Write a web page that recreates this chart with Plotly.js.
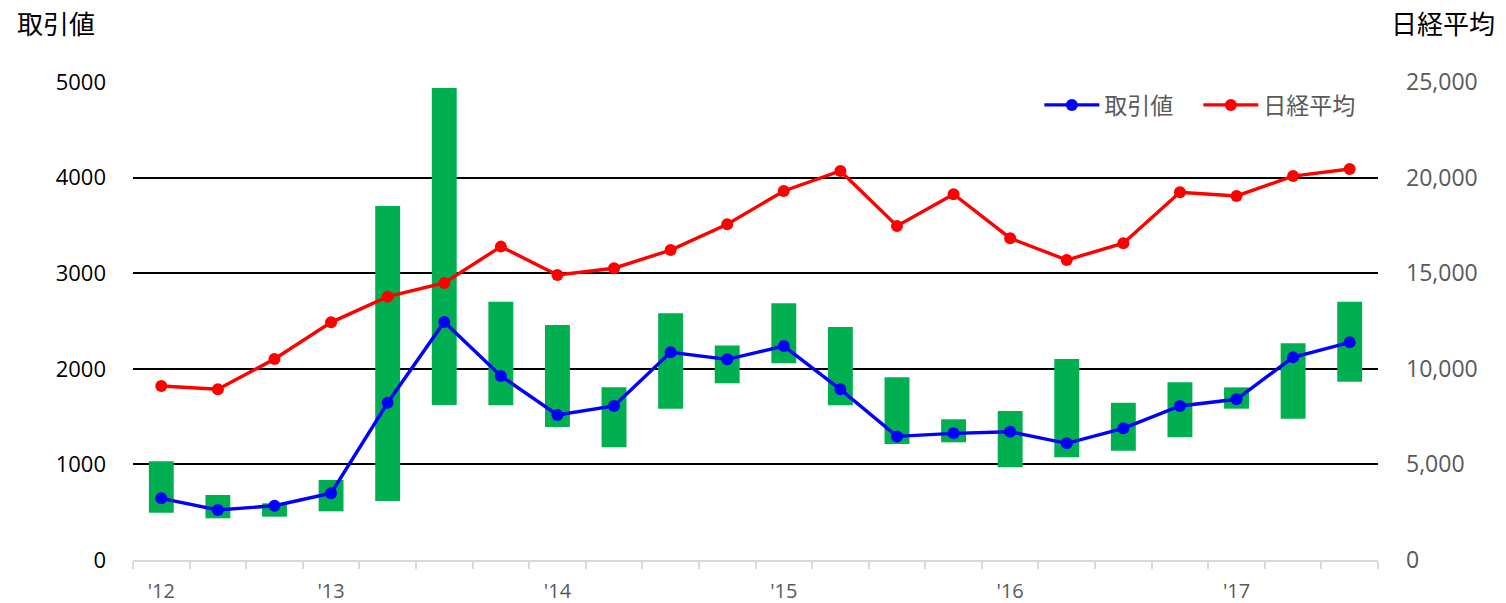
<!DOCTYPE html>
<html>
<head>
<meta charset="utf-8">
<script src="https://cdn.plot.ly/plotly-3.0.1.min.js"></script>
<style>html,body{margin:0;padding:0;background:#fff;}#chart{width:1506px;height:603px;}</style>
</head>
<body>
<div id="chart"></div>
<script>
// Quarterly index (0 = first quarter shown)
const quarters = [0,1,2,3,4,5,6,7,8,9,10,11,12,13,14,15,16,17,18,19,20,21];
const tickPositions = [0,3,7,11,15,19];
const tickLabels = ["'12","'13","'14","'15","'16","'17"];

// 取引値 (left axis)
const tradeValue = [645,523,568,698,1645,2490,1925,1517,1611,2172,2099,2238,1785,1293,1325,1342,1220,1377,1611,1681,2120,2277];
// Range bars (low / high)
const rangeLow  = [495,436,453,509,617,1621,1618,1391,1179,1583,1848,2057,1618,1213,1231,970,1074,1144,1284,1583,1478,1865];
const rangeHigh = [1032,680,593,837,3703,4937,2702,2458,1806,2580,2245,2685,2437,1911,1472,1559,2103,1646,1859,1806,2267,2702];
// 日経平均 (right axis)
const nikkei = [9100,8930,10510,12430,13770,14490,16390,14910,15260,16210,17560,19300,20350,17470,19130,16830,15690,16570,19230,19040,20080,20450];

const font = "'Open Sans', 'Noto Sans CJK JP', sans-serif";
const jfont = "'Noto Sans CJK JP', sans-serif";

const traces = [
  {
    type: 'bar', x: quarters, base: rangeLow,
    y: rangeHigh.map((h, i) => h - rangeLow[i]),
    width: 0.44, marker: {color: '#00b050'}, showlegend: false, hoverinfo: 'skip'
  },
  {
    type: 'scatter', mode: 'lines+markers', name: '取引値', x: quarters, y: tradeValue,
    line: {color: '#0000ff', width: 3.4}, marker: {color: '#0000ff', size: 12}
  },
  {
    type: 'scatter', mode: 'lines+markers', name: '日経平均', x: quarters, y: nikkei, yaxis: 'y2',
    line: {color: '#ff0000', width: 3.4}, marker: {color: '#ff0000', size: 12}
  }
];

const layout = {
  width: 1506, height: 603,
  margin: {l: 133, r: 128, t: 82, b: 43, autoexpand: false},
  paper_bgcolor: '#fff', plot_bgcolor: '#fff',
  font: {family: font, color: '#595959'},
  showlegend: true,
  legend: {
    orientation: 'h', x: 0.728, y: 0.952, xanchor: 'left', yanchor: 'middle',
    font: {family: jfont, size: 23, color: '#595959'}, bgcolor: 'rgba(0,0,0,0)',
    itemwidth: 55, entrywidth: 89, entrywidthmode: 'pixels', tracegroupgap: 0
  },
  xaxis: {
    range: [-0.5, 21.5], tickmode: 'array', tickvals: tickPositions, ticktext: tickLabels,
    ticks: '', showgrid: false, zeroline: false,
    showline: true, linecolor: '#d9d9d9', linewidth: 2,
    tickfont: {family: font, size: 20, color: '#595959'},
    ticklabelstandoff: 12,
    minor: {tick0: -0.5, dtick: 1, ticks: 'outside', ticklen: 7, tickcolor: '#d9d9d9', tickwidth: 2, showgrid: false}
  },
  yaxis: {
    range: [0, 5000], tickvals: [0,1000,2000,3000,4000,5000], ticktext: ['0','1000','2000','3000','4000','5000'],
    showgrid: true, gridcolor: '#000', gridwidth: 2, zeroline: false, showline: false,
    tickfont: {family: font, size: 22, color: '#000'}, ticklabelstandoff: 26
  },
  yaxis2: {
    range: [0, 25000], overlaying: 'y', side: 'right',
    tickvals: [0,5000,10000,15000,20000,25000], ticktext: ['0','5,000','10,000','15,000','20,000','25,000'],
    showgrid: false, zeroline: false, showline: false,
    tickfont: {family: font, size: 23, color: '#595959'}, ticklabelstandoff: 27
  },
  annotations: [
    {text: '取引値', xref: 'paper', yref: 'paper', x: -0.0948, y: 1.1255, xanchor: 'left', yanchor: 'middle',
     showarrow: false, font: {family: jfont, size: 26, color: '#000'}},
    {text: '日経平均', xref: 'paper', yref: 'paper', x: 1.0956, y: 1.1255, xanchor: 'right', yanchor: 'middle',
     showarrow: false, font: {family: jfont, size: 26, color: '#000'}}
  ]
};

Plotly.newPlot('chart', traces, layout, {displayModeBar: false, staticPlot: true});
</script>
</body>
</html>
